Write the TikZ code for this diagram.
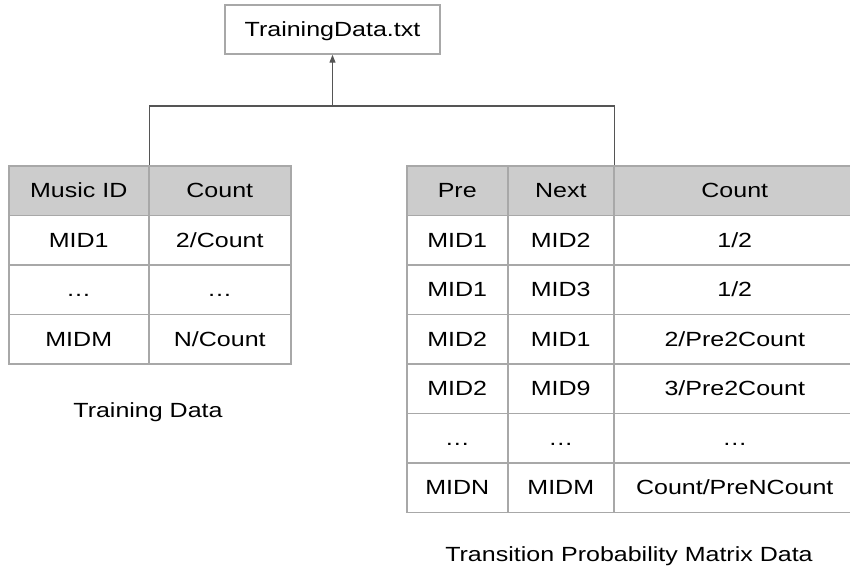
\documentclass[tikz,border=0pt]{standalone}
\usepackage{fontspec}
\setmainfont{Liberation Sans}[FakeStretch=1.22]
\usetikzlibrary{arrows.meta}
\definecolor{cellgray}{HTML}{A8A8A8}
\definecolor{headfill}{HTML}{CCCCCC}
\definecolor{conngray}{HTML}{555555}
\begin{document}
\begin{tikzpicture}[x=1pt,y=-1pt,
  txt/.style={font=\fontsize{20.5}{24}\selectfont, text height=14.7pt, text depth=0pt, inner sep=0pt},
  cell/.style={txt, draw=cellgray, line width=1.5pt, minimum height=49.5pt, anchor=north west},
  head/.style={cell, fill=headfill},
  conn/.style={draw=conngray, line width=1.3pt},
  arr/.style={conn, -{Triangle[length=8pt,width=6pt]}}]
\useasboundingbox (0,0) rectangle (850,567);
% top file box
\node[txt, draw=cellgray, line width=1.5pt, minimum width=215pt, minimum height=49pt] (box) at (332.5,29.5) {TrainingData.txt};
% left table
\node[head, minimum width=140pt] (lh1) at (8,165) {Music ID};
\node[head, minimum width=142pt] (lh2) at (148,165) {Count};
\node[cell, minimum width=140pt] (l11) at (8,214.5) {MID1};
\node[cell, minimum width=142pt] (l12) at (148,214.5) {2/Count};
\node[cell, minimum width=140pt] (l21) at (8,264) {\dots};
\node[cell, minimum width=142pt] (l22) at (148,264) {\dots};
\node[cell, minimum width=140pt] (l31) at (8,313.5) {MIDM};
\node[cell, minimum width=142pt] (l32) at (148,313.5) {N/Count};
% right table
\node[head, minimum width=101pt] (rh1) at (406,165) {Pre};
\node[head, minimum width=106pt] (rh2) at (507,165) {Next};
\node[head, minimum width=242pt] (rh3) at (613,165) {Count};
\foreach \y/\a/\b/\c [count=\i] in {214.5/MID1/MID2/1\slash 2, 264/MID1/MID3/1\slash 2, 313.5/MID2/MID1/2\slash Pre2Count, 363/MID2/MID9/3\slash Pre2Count, 412.5/\dots/\dots/\dots, 462/MIDN/MIDM/Count\slash PreNCount}{
  \node[cell, minimum width=101pt] (r\i a) at (406,\y) {\a};
  \node[cell, minimum width=106pt] (r\i b) at (507,\y) {\b};
  \node[cell, minimum width=242pt] (r\i c) at (613,\y) {\c};
}
% captions
\node[txt] (cap1) at (148,410) {Training Data};
\node[txt] (cap2) at (629,554.5) {Transition Probability Matrix Data};
% connectors
\draw[conn] (lh1.north east) -- ++(0,-59) coordinate (bus) -| (rh2.north east);
\draw[arr] (box.south |- bus) -- (box.south);
\end{tikzpicture}
\end{document}
